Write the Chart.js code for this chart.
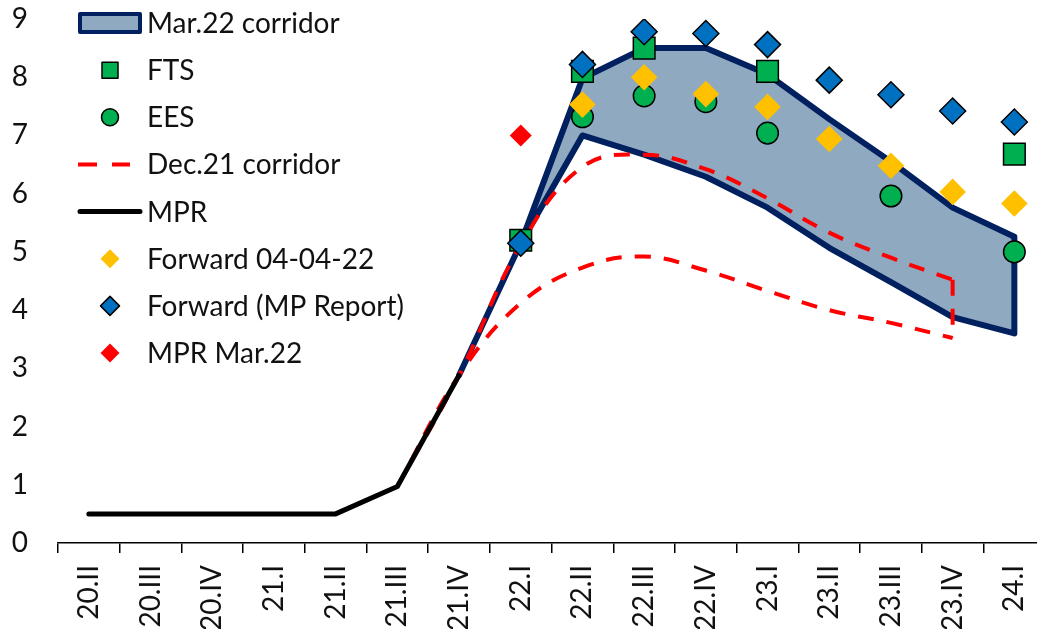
<!DOCTYPE html>
<html><head><meta charset="utf-8">
<script src="https://cdn.jsdelivr.net/npm/chart.js@4.4.1/dist/chart.umd.min.js"></script>
<style>
html,body{margin:0;padding:0;background:#fff;overflow:hidden;}
#wrap{position:relative;width:1045px;height:629px;}
</style></head><body>
<div id="wrap"><canvas id="c"></canvas></div>
<script>
// ---- data ----
const categories = ['20.II','20.III','20.IV','21.I','21.II','21.III','21.IV','22.I','22.II','22.III','22.IV','23.I','23.II','23.III','23.IV','24.I'];
const yMin = 0, yMax = 9, yStep = 1;
const mpr        = [0.5,0.5,0.5,0.5,0.5,0.97,2.88,null,null,null,null,null,null,null,null,null];
const mar22Upper = [null,null,null,null,null,null,2.88,5.15,7.98,8.5,8.5,8.05,7.28,6.55,5.76,5.26];
const mar22Lower = [null,null,null,null,null,null,2.88,5.15,7.0,6.67,6.29,5.76,5.07,4.48,3.88,3.6];
const dec21Upper = [null,null,null,null,null,0.97,2.88,5.12,6.46,6.67,6.42,5.92,5.33,4.9,4.52,null];
const dec21Lower = [null,null,null,null,null,0.97,2.88,4.12,4.73,4.92,4.68,4.33,4.0,3.78,3.52,null];
const fts        = [null,null,null,null,null,null,null,5.2,8.1,8.5,null,8.1,null,null,null,6.68];
const ees        = [null,null,null,null,null,null,null,null,7.32,7.68,7.58,7.04,null,5.96,null,5.0];
const fwd0404    = [null,null,null,null,null,null,null,5.15,7.53,8.0,7.71,7.49,6.94,6.48,6.03,5.83];
const fwdMPR     = [null,null,null,null,null,null,null,5.15,8.22,8.78,8.75,8.56,7.95,7.7,7.42,7.23];
const mprMar22   = [null,null,null,null,null,null,null,7.0,null,null,null,null,null,null,null,null];
const labels = ['Mar.22 corridor','FTS','EES','Dec.21 corridor','MPR','Forward 04-04-22','Forward (MP Report)','MPR Mar.22'];

// closed band: upper path then lower path reversed
function band(upper, lower){
  const pts = [];
  upper.forEach((v,i)=>{ if(v!==null) pts.push({x:categories[i], y:v}); });
  for(let i=lower.length-1;i>=0;i--){ if(lower[i]!==null) pts.push({x:categories[i], y:lower[i]}); }
  return pts;
}
// vertical closing segment at the last defined category
function closer(upper, lower){
  let i = upper.length-1; while(i>=0 && upper[i]===null) i--;
  return [{x:categories[i], y:upper[i]}, {x:categories[i], y:lower[i]}];
}

const NAVY='#002060', FILL='#8FA9C1', GREEN='#00B050', BLUE='#0070C0', YELLOW='#FFC000', RED='#FF0000';
const FONT = 'Lato';
const FS = 28;
const TXT = '#111';
const TARGET_RIGHT = 1045;

const legendPlugin = {
  id:'customLegend',
  afterDraw(chart){
    const ctx = chart.ctx;
    ctx.save();
    const xText = 147, y0 = 23, dy = 47.15, cx = 110;
    labels.forEach((lab,i)=>{
      const y = y0 + i*dy;
      ctx.setLineDash([]);
      if(i===0){
        ctx.fillStyle=FILL; ctx.strokeStyle=NAVY; ctx.lineWidth=4; ctx.lineJoin='round';
        ctx.fillRect(80,y-9,60,18); ctx.strokeRect(80,y-9,60,18);
      } else if(i===1){
        ctx.fillStyle=GREEN; ctx.strokeStyle='#000'; ctx.lineWidth=1.5;
        ctx.fillRect(cx-8,y-8,16,16); ctx.strokeRect(cx-8,y-8,16,16);
      } else if(i===2){
        ctx.fillStyle=GREEN; ctx.strokeStyle='#000'; ctx.lineWidth=1.5;
        ctx.beginPath(); ctx.arc(cx,y,8.5,0,Math.PI*2); ctx.fill(); ctx.stroke();
      } else if(i===3){
        ctx.strokeStyle=RED; ctx.lineWidth=4; ctx.lineCap='butt';
        ctx.beginPath(); ctx.moveTo(78,y); ctx.lineTo(97,y); ctx.moveTo(112,y); ctx.lineTo(130,y); ctx.stroke();
      } else if(i===4){
        ctx.strokeStyle='#000'; ctx.lineWidth=5; ctx.lineCap='round';
        ctx.beginPath(); ctx.moveTo(80,y); ctx.lineTo(140,y); ctx.stroke();
      } else {
        const col = i===5?YELLOW:(i===6?BLUE:RED);
        const r = 9.5;
        ctx.fillStyle=col;
        ctx.beginPath(); ctx.moveTo(cx,y-r); ctx.lineTo(cx+r,y); ctx.lineTo(cx,y+r); ctx.lineTo(cx-r,y); ctx.closePath();
        ctx.fill();
        if(i===6){ ctx.strokeStyle='#000'; ctx.lineWidth=1.5; ctx.stroke(); }
      }
      ctx.fillStyle=TXT;
      ctx.font = FS+'px '+FONT;
      ctx.textBaseline='middle'; ctx.textAlign='left';
      ctx.fillText(lab, xText, y+1);
    });
    ctx.restore();
  }
};

function pointSet(label, data, style, radius, color, border, order){
  return {label, data, showLine:false, pointStyle:style, pointRadius:radius, pointHoverRadius:radius,
    pointBackgroundColor:color, pointBorderColor:border?'#000':color, pointBorderWidth:border?1.5:0,
    backgroundColor:color, borderColor:color, order};
}
function dashed(label, data, tension, order){
  return {label, data, borderColor:RED, borderWidth:4, borderDash:[16,13], pointRadius:0, fill:false,
    tension, spanGaps:false, order};
}

function build(){
  const chart = new Chart(document.getElementById('c'), {
    type:'line',
    data:{
      labels: categories,
      datasets:[
        pointSet(labels[7], mprMar22, 'rectRot', 11, RED, false, 0),
        pointSet(labels[6], fwdMPR, 'rectRot', 13, BLUE, true, 1),
        pointSet(labels[5], fwd0404, 'rectRot', 13.3, YELLOW, false, 2),
        {label:labels[4], data:mpr, borderColor:'#000', borderWidth:5, pointRadius:0, fill:false,
         borderCapStyle:'round', borderJoinStyle:'round', order:3},
        dashed(labels[3], dec21Upper, 0.4, 4),
        dashed(labels[3]+' lower', dec21Lower, 0.4, 4),
        dashed(labels[3]+' end', closer(dec21Upper, dec21Lower), 0, 4),
        pointSet(labels[2], ees, 'circle', 10.8, GREEN, true, 5),
        pointSet(labels[1], fts, 'rect', 15.3, GREEN, true, 6),
        {label:labels[0], data:band(mar22Upper, mar22Lower), borderColor:NAVY, borderWidth:6, backgroundColor:FILL,
         pointRadius:0, fill:'shape', borderJoinStyle:'round', borderCapStyle:'round', tension:0, order:7}
      ]
    },
    options:{
      responsive:true, maintainAspectRatio:false, animation:false,
      events:[],
      layout:{padding:{top:19, right:0, bottom:0, left:0}},
      plugins:{legend:{display:false}, tooltip:{enabled:false}},
      scales:{
        x:{
          type:'category', offset:true,
          grid:{display:true, drawOnChartArea:false, drawTicks:true, tickLength:10, offset:true, color:'#000', lineWidth:1.5},
          border:{display:true, color:'#000', width:1.5},
          ticks:{autoSkip:false, minRotation:90, maxRotation:90, padding:12, color:TXT, font:{family:FONT, size:FS}},
          afterFit(scale){ scale.height = 86; }
        },
        y:{
          min:yMin, max:yMax,
          grid:{display:false, drawTicks:false},
          border:{display:false},
          ticks:{stepSize:yStep, padding:30, color:TXT, font:{family:FONT, size:FS}},
          afterFit(scale){ scale.width = 58; scale.paddingTop = 0; scale.paddingBottom = 0; }
        }
      }
    },
    plugins:[legendPlugin]
  });
  // the last category runs past the page edge in the reference: widen the canvas so the plot ends at TARGET_RIGHT
  const diff = Math.round(TARGET_RIGHT - chart.chartArea.right);
  if(diff !== 0){
    const wrap = document.getElementById('wrap');
    wrap.style.width = (wrap.clientWidth + diff) + 'px';
    chart.resize();
  }
}
if(document.fonts && document.fonts.load){
  document.fonts.load(FS+'px '+FONT).then(build, build);
} else build();
</script>
</body></html>
